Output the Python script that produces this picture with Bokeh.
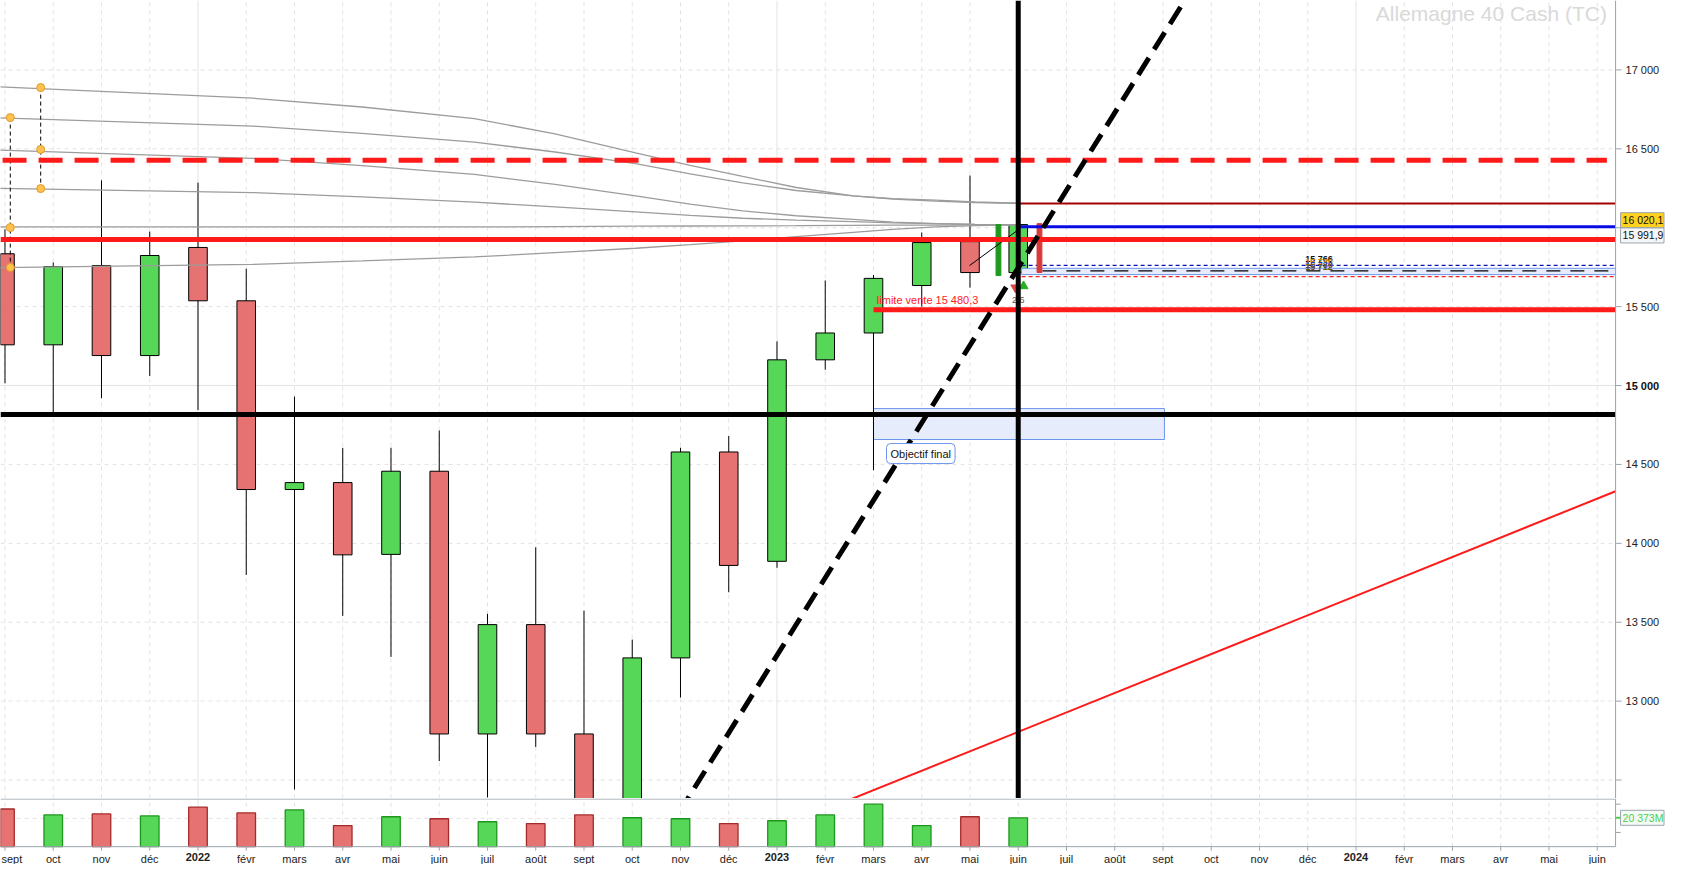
from bokeh.plotting import figure
from bokeh.layouts import column
from bokeh.models import ColumnDataSource, Span, Label, Range1d
from bokeh.core.properties import value
from bokeh.embed import file_html
from bokeh.resources import INLINE

FONT = "Liberation Sans"
GRID = "#e3e3e3"
AXIS = "#9aa5ad"

# x axis: one slot per month, 0 = sept 2021
months = ["sept", "oct", "nov", "déc", "2022", "févr", "mars", "avr", "mai", "juin",
          "juil", "août", "sept", "oct", "nov", "déc", "2023", "févr", "mars", "avr",
          "mai", "juin", "juil", "août", "sept", "oct", "nov", "déc", "2024", "févr",
          "mars", "avr", "mai", "juin"]
year_starts = [4, 16, 28]

# price axis
price_grid = [12500, 13000, 13500, 14000, 14500, 15000, 15500, 16000, 16500, 17000]
price_labels = [13000, 13500, 14000, 14500, 15500, 16000, 16500, 17000]
bold_label = 15000

# monthly candles (points)
opens = [15835, 15258, 15760, 15190, 15875, 15537, 14341, 14385, 13930, 14457, 12792,
         13485, 12792, 12114, 13274, 14579, 13886, 15163, 15333, 15634, 15912, 15716]
highs = [15990, 15780, 16300, 15976, 16286, 15740, 14930, 14605, 14606, 14715, 13553,
         13975, 13573, 13390, 14606, 14680, 15280, 15666, 15700, 15970, 16331, 16025]
lows = [15014, 14823, 14920, 15060, 14845, 13800, 12440, 13540, 13280, 12620, 12390,
        12710, 11860, 11870, 13023, 13690, 13845, 15100, 14463, 15500, 15620, 15700]
closes = [15258, 15754, 15190, 15824, 15537, 14341, 14385, 13927, 14457, 12792, 13485,
          12792, 12114, 13274, 14579, 13860, 15163, 15333, 15679, 15906, 15716, 16020]
# volume in millions
volumes = [26.6, 22.4, 23.1, 21.7, 27.9, 23.8, 25.9, 14.9, 21.1, 19.7, 17.6,
           16.3, 22.4, 20.4, 19.7, 16.3, 18.3, 22.4, 30.0, 14.9, 21.1, 20.373]
volume_ticks = [10, 30]
volume_grid = [20]

# horizontal levels
level_red_dashed = 16427
level_red = 15925
level_darkred = 16153
level_blue = 16006
level_limit = 15480.3
level_black = 14816
band_top, band_mid, band_bottom = 15743, 15727, 15703
band_blue_dash, band_red_dash = 15762, 15690
cursor_month = 21

# price tags on the axis (text, where the box sits)
tag_texts = ["16 020,1", "15 991,9"]
tag_centres = [16048, 15951]
tag_fills = ["#ffd21f", "#f4f6f8"]

# trend lines (month, points)
dash_trend_x = [13.96, 24.55]
dash_trend_y = [12288, 17490]
red_trend_x = [16.8, 33.38]
red_trend_y = [12288, 14330]

# grey fan curves
fan_x = [-0.27, 5.13, 7.4, 9.73, 11.4, 13.07, 14.2, 15.29, 16.4, 17.58, 18.4, 19.29, 20.1, 21.0]
fan_curves = [
    [16895, 16821, 16765, 16691, 16595, 16474, 16395, 16325, 16255, 16202, 16185, 16175, 16163, 16155],
    [16698, 16644, 16598, 16542, 16480, 16406, 16342, 16284, 16236, 16202, 16182, 16168, 16160, 16155],
    [16494, 16440, 16394, 16338, 16275, 16202, 16150, 16107, 16076, 16053, 16036, 16026, 16021, 16019],
    [16250, 16223, 16195, 16162, 16132, 16100, 16078, 16060, 16048, 16039, 16031, 16026, 16021, 16019],
    [16005, 16005, 16005, 16005, 16007, 16010, 16011, 16012, 16013, 16015, 16016, 16017, 16018, 16019],
    [15747, 15768, 15790, 15815, 15842, 15870, 15893, 15917, 15944, 15971, 15990, 16005, 16013, 16019],
]
anchor_x = [0.11, 0.11, 0.11, 0.74, 0.74, 0.74]
anchor_y = [16698, 16001, 15748, 16888, 16496, 16248]

# target zone
target_x0, target_x1 = 18.0, 24.03
target_y0, target_y1 = 14658, 14854

# weekly mini bars around the cursor
mini_x = [20.59, 21.44]
mini_top = [16020, 16026]
mini_bottom = [15697, 15716]
mini_color = ["#1e9a1e", "#d83a3a"]

stack_labels = ["15 766", "15 739", "15 730", "15 712"]
stack_y = [15805, 15786, 15767, 15748]
stack_colors = ["#111111", "#d98a00", "#1f3fbf", "#7a5a00"]


def fmt(v):
    return f"{v:,}".replace(",", " ")


# geometry: the frame covers the whole canvas, the axis strip is drawn by hand
W, H_PRICE, H_VOL = 1665, 798, 66
X0 = -0.093
X1 = X0 + W / 48.25
plot_end = 33.38
Y0, Y1 = 12383, 17440
mx = (X1 - X0) / W
my = (Y1 - Y0) / H_PRICE
V0, V1 = -12.6, 34.0
vmax = 33.6
mv = (V1 - V0) / H_VOL

up = [c >= o for o, c in zip(opens, closes)]
src = ColumnDataSource(dict(
    x=list(range(len(opens))),
    high=highs, low=lows,
    top=[max(o, c) for o, c in zip(opens, closes)],
    bottom=[min(o, c) for o, c in zip(opens, closes)],
    fill=["#57d757" if u else "#e67272" for u in up],
    vline=["#1e961e" if u else "#a52a2a" for u in up],
    volume=volumes,
))

x_range = Range1d(X0, X1)
month_idx = list(range(len(months)))
dashed_months = [i for i in month_idx if i not in year_starts]


def bare(height, y_range):
    f = figure(width=W, height=height, x_range=x_range, y_range=y_range,
               x_axis_location=None, y_axis_location=None, toolbar_location=None,
               output_backend="svg", min_border=0, outline_line_color=None)
    f.xgrid.grid_line_color = None
    f.ygrid.grid_line_color = None
    return f


p = bare(H_PRICE, Range1d(Y0, Y1))

# grid
p.segment(x0=dashed_months, y0=Y0, x1=dashed_months, y1=Y1, line_color=GRID,
          line_dash="4 4")
p.segment(x0=year_starts, y0=Y0, x1=year_starts, y1=Y1, line_color=GRID)
dashed_prices = [v for v in price_grid if v != bold_label]
p.segment(x0=X0, y0=dashed_prices, x1=plot_end, y1=dashed_prices, line_color=GRID,
          line_dash="4 4")
p.segment(x0=[X0], y0=[bold_label], x1=[plot_end], y1=[bold_label], line_color=GRID)

# watermark title
p.text(x=[33.2], y=[Y1 - 1 * my], text=["Allemagne 40 Cash (TC)"], text_align="right",
       text_baseline="top", text_font=value(FONT), text_font_size="21px",
       text_color="#d9d9d9")

# target zone
p.quad(left=[target_x0], right=[target_x1], bottom=[target_y0], top=[target_y1],
       fill_color="#e6ecfc", line_color="#6d95ee", line_width=1)

# candles
p.segment("x", "high", "x", "low", source=src, line_color="black", line_width=1)
p.vbar(x="x", width=0.385, top="top", bottom="bottom", fill_color="fill",
       line_color="black", line_width=1, source=src)

# fan curves and anchors
p.multi_line(xs=[fan_x] * len(fan_curves), ys=fan_curves, line_color="#9c9c9c",
             line_width=1.3)
p.segment(x0=[anchor_x[0], anchor_x[3]], y0=[anchor_y[0], anchor_y[3]],
          x1=[anchor_x[2], anchor_x[5]], y1=[anchor_y[2], anchor_y[5]],
          line_color="black", line_width=1, line_dash="4 3")
p.scatter(anchor_x, anchor_y, size=8, fill_color="#ffc24d", line_color="#e09a2a")

# band right of the cursor
p.quad(left=[cursor_month + 0.07], right=[plot_end], bottom=[band_bottom], top=[band_top],
       fill_color="#e6ecfc", line_color="#6d95ee", line_width=1)
p.segment(x0=[cursor_month + 0.5], y0=[band_mid], x1=[plot_end], y1=[band_mid],
          line_color="black", line_width=1.2, line_dash="14 10")
p.segment(x0=[cursor_month + 0.07], y0=[band_blue_dash], x1=[plot_end], y1=[band_blue_dash],
          line_color="#1010b0", line_width=1.2, line_dash="4 3")
p.segment(x0=[cursor_month + 0.07], y0=[band_red_dash], x1=[plot_end], y1=[band_red_dash],
          line_color="#ff2020", line_width=1.2, line_dash="4 3")

# weekly mini bars and connector
p.vbar(x=mini_x, width=0.1, top=mini_top, bottom=mini_bottom, fill_color=mini_color,
       line_color=mini_color)
p.line([19.99, 20.98], [15760, 15982], line_color="black", line_width=1)

# levels
p.segment(x0=[-0.05], y0=[level_red_dashed], x1=[33.2], y1=[level_red_dashed],
          line_color="#ff1a1a", line_width=5, line_dash="24 12")
p.segment(x0=[X0], y0=[level_red], x1=[plot_end], y1=[level_red],
          line_color="#ff1a1a", line_width=5)
p.segment(x0=[X0], y0=[level_black], x1=[plot_end], y1=[level_black],
          line_color="black", line_width=5)
p.segment(x0=[cursor_month], y0=[level_darkred], x1=[plot_end], y1=[level_darkred],
          line_color="#a30000", line_width=2)
p.segment(x0=[cursor_month], y0=[level_blue], x1=[plot_end], y1=[level_blue],
          line_color="#0a0ae6", line_width=3)
p.segment(x0=[18.0], y0=[level_limit], x1=[plot_end], y1=[level_limit],
          line_color="#ff1a1a", line_width=5)
p.text(x=[18.07], y=[level_limit + 4 * my], text=["limite  vente 15 480,3"],
       text_baseline="bottom", text_font=value(FONT), text_font_size="11px",
       text_color="#ff2020")

# trend lines
p.line(red_trend_x, red_trend_y, line_color="#ff1a1a", line_width=2)
p.line(dash_trend_x, dash_trend_y, line_color="black", line_width=5, line_dash="20 10")
p.add_layout(Span(location=cursor_month, dimension="height", line_color="black",
                  line_width=5))

# markers under the last candle
p.scatter([20.94], [15621], marker="inverted_triangle", size=9, fill_color="#e04848",
          line_color="#e04848")
p.scatter([21.11], [15630], marker="triangle", size=9, fill_color="#22b022",
          line_color="#22b022")
p.text(x=[cursor_month], y=[15545], text=["2/6"], text_align="center",
       text_baseline="middle", text_font=value(FONT), text_font_size="9px",
       text_color="#555555")

p.text(x=[26.95] * len(stack_labels), y=stack_y, text=stack_labels,
       text_baseline="middle", text_font=value(FONT), text_font_size="9px",
       text_font_style="bold", text_color=stack_colors)

p.add_layout(Label(x=18.27, y=14569, text="Objectif final", text_baseline="middle",
                   text_font=FONT, text_font_size="11px", text_color="#111111",
                   background_fill_color="white", border_line_color="#6d95ee",
                   border_radius=4, padding=4))

# right axis strip
p.rect(x=[(plot_end + X1) / 2], y=[(Y0 + Y1) / 2], width=X1 - plot_end, height=Y1 - Y0,
       fill_color="white", line_color=None)
p.segment(x0=[plot_end], y0=[Y0], x1=[plot_end], y1=[Y1], line_color=AXIS)
p.segment(x0=plot_end, y0=price_grid, x1=plot_end + 6 * mx, y1=price_grid, line_color=AXIS)
p.text(x=plot_end + 10 * mx, y=price_labels, text=[fmt(v) for v in price_labels],
       text_baseline="middle", text_font=value(FONT), text_font_size="11px",
       text_color="#222222")
p.text(x=[plot_end + 10 * mx], y=[bold_label], text=[fmt(bold_label)],
       text_baseline="middle", text_font=value(FONT), text_font_size="11px",
       text_font_style="bold", text_color="#111111")
tag_left = plot_end + 5 * mx
tag_right = X1 - 1.5 * mx
p.rect(x=[(tag_left + tag_right) / 2] * 2, y=tag_centres, width=tag_right - tag_left,
       height=15 * my, fill_color=tag_fills, line_color=AXIS)
p.text(x=tag_left + 2 * mx, y=tag_centres, text=tag_texts, text_baseline="middle",
       text_font=value(FONT), text_font_size="10.5px", text_color="#111111")

# volume panel
v = bare(H_VOL, Range1d(V0, V1))
v.segment(x0=dashed_months, y0=0, x1=dashed_months, y1=vmax, line_color=GRID,
          line_dash="4 4")
v.segment(x0=year_starts, y0=0, x1=year_starts, y1=vmax, line_color=GRID)
v.segment(x0=X0, y0=volume_grid, x1=plot_end, y1=volume_grid, line_color=GRID,
          line_dash="4 4")
v.vbar(x="x", width=0.385, top="volume", bottom=0, fill_color="fill",
       line_color="vline", line_width=1.3, source=src)
# frame lines and axes
v.segment(x0=[X0, X0, plot_end], y0=[vmax, 0, 0], x1=[plot_end, plot_end, plot_end],
          y1=[vmax, 0, vmax], line_color=AXIS)
v.segment(x0=plot_end, y0=volume_ticks, x1=plot_end + 5 * mx, y1=volume_ticks,
          line_color=AXIS)
v.segment(x0=month_idx, y0=0, x1=month_idx, y1=-4 * mv, line_color=AXIS)
year_set = set(year_starts)
plain = [i for i in month_idx if i not in year_set and i > 0]
v.text(x=plain, y=-6 * mv, text=[months[i] for i in plain],
       text_align="center", text_baseline="top", text_font=value(FONT),
       text_font_size="11px", text_color="#222222")
# first label would hang over the left edge: keep it inside
v.text(x=[X0 + mx], y=-6 * mv, text=[months[0]], text_align="left",
       text_baseline="top", text_font=value(FONT), text_font_size="11px",
       text_color="#222222")
v.text(x=year_starts, y=-6 * mv, text=[months[i] for i in year_starts],
       text_align="center", text_baseline="top", text_font=value(FONT),
       text_font_size="11px", text_font_style="bold", text_color="#222222")
# last volume tag
v.segment(x0=[plot_end], y0=[volumes[-1]], x1=[plot_end + 5 * mx], y1=[volumes[-1]],
          line_color="#4fcf4f", line_width=2)
v.rect(x=[(tag_left + tag_right) / 2], y=[volumes[-1]], width=tag_right - tag_left,
       height=15 * mv, fill_color="#f4fbf4", line_color=AXIS)
v.text(x=[tag_left + 2 * mx], y=[volumes[-1]], text=[fmt(20373) + "M"],
       text_baseline="middle", text_font=value(FONT), text_font_size="10.5px",
       text_color="#4fcf4f")

layout = column(p, v, spacing=0)
open("out.html", "w").write(file_html(layout, INLINE))
